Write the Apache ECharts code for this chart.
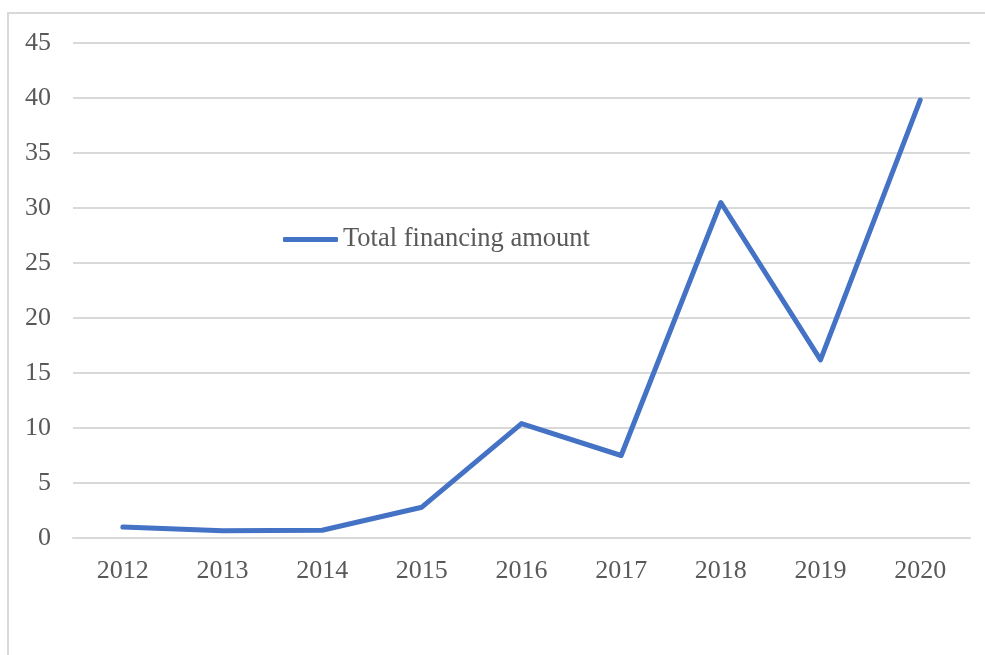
<!DOCTYPE html>
<html><head><meta charset="utf-8">
<script src="https://cdn.jsdelivr.net/npm/echarts@6/dist/echarts.min.js"></script>
<style>html,body{margin:0;padding:0;background:#fff}#c{width:985px;height:655px}</style>
</head><body><div id="c"></div>
<script>
var years = ['2012','2013','2014','2015','2016','2017','2018','2019','2020'];
var totalFinancing = [1.0, 0.65, 0.7, 2.8, 10.4, 7.5, 30.5, 16.2, 39.8];
var seriesName = 'Total financing amount';

var chart = echarts.init(document.getElementById('c'));
var font = 'Liberation Serif, Times New Roman, serif';
chart.setOption({
  backgroundColor: '#fff',
  animation: false,
  graphic: [{
    type: 'rect', shape: {x: 8, y: 13, width: 990, height: 700},
    style: {fill: 'none', stroke: '#d9d9d9', lineWidth: 2}, silent: true
  }],
  grid: {left: 73, right: 15, top: 43, bottom: 117},
  legend: {
    left: 283, top: 226, padding: 0, itemWidth: 55, itemHeight: 5, itemGap: 0,
    icon: 'roundRect',
    data: [seriesName],
    textStyle: {fontFamily: font, fontSize: 26.5, color: '#595959'}
  },
  xAxis: {
    type: 'category', data: years, boundaryGap: true,
    axisLine: {show: true, lineStyle: {color: '#d9d9d9', width: 2}},
    axisTick: {show: false},
    axisLabel: {fontFamily: font, fontSize: 26, color: '#595959', margin: 20}
  },
  yAxis: {
    type: 'value', min: 0, max: 45, interval: 5,
    axisLine: {show: false}, axisTick: {show: false},
    splitLine: {lineStyle: {color: '#d9d9d9', width: 2}},
    axisLabel: {fontFamily: font, fontSize: 26, color: '#595959', margin: 22}
  },
  series: [{
    name: seriesName, type: 'line', data: totalFinancing,
    showSymbol: false, symbol: 'none',
    lineStyle: {color: '#4472C4', width: 5, cap: 'round', join: 'round'},
    itemStyle: {color: '#4472C4'}
  }]
});
</script></body></html>
